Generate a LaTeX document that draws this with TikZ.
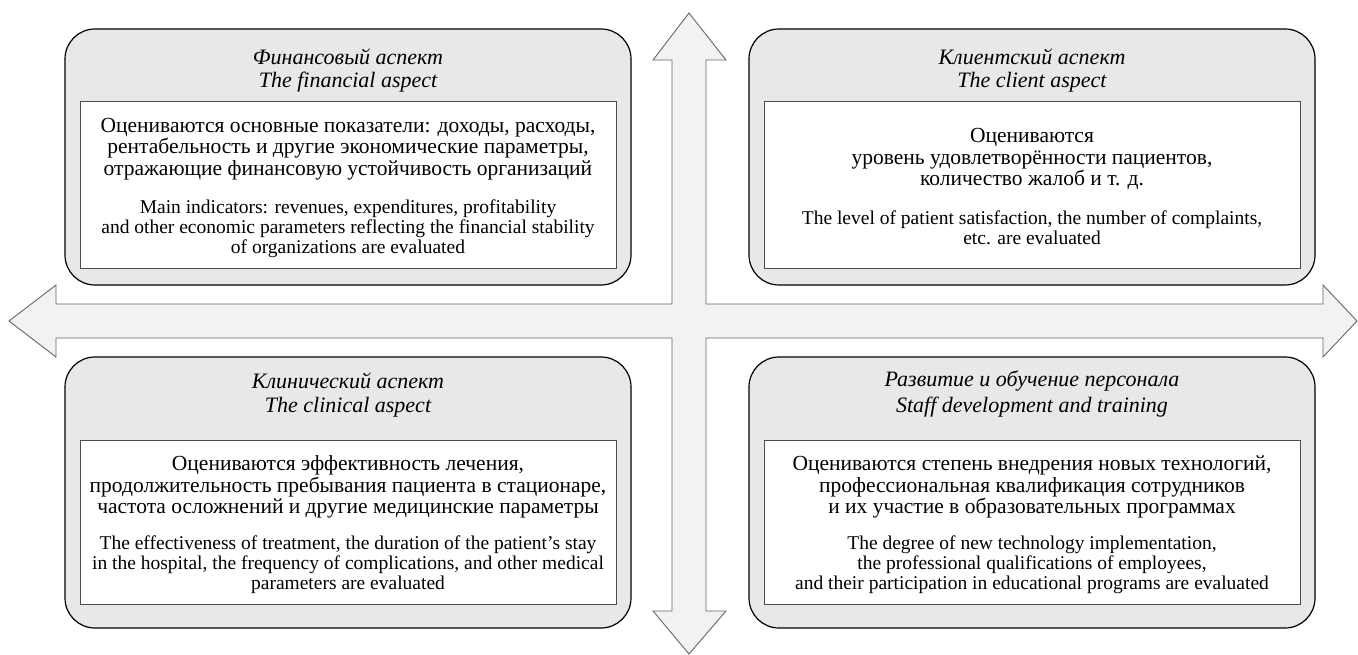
\documentclass[tikz,border=0pt]{standalone}
\usepackage{fontspec}
\setmainfont{Liberation Serif}
\usepackage{tikz}

\begin{document}
\begin{tikzpicture}[x=1pt,y=-1pt,
  aspect/.style={draw=black,line width=1.2pt,fill=black!9,rounded corners=30pt},
  inbox/.style={draw=black!70,line width=0.9pt,fill=white},
  head/.style={inner sep=0pt,font=\itshape\fontsize{22}{24}\selectfont},
  ru/.style={align=center,inner sep=0pt,font=\fontsize{21.5}{21.5}\selectfont},
  en/.style={align=center,inner sep=0pt,font=\fontsize{19.5}{19.8}\selectfont}]
  \useasboundingbox (0,0) rectangle (1358,655);

  % cross of two double arrows
  \draw[draw=black!60,fill=black!5,line width=0.9pt]
    (689,13) -- (726,60) -- (706,60) -- (706,304) -- (1323,304) -- (1323,285)
    -- (1357,321) -- (1323,357) -- (1323,338) -- (706,338) -- (706,611)
    -- (726,611) -- (689,654) -- (653,611) -- (672,611) -- (672,338)
    -- (56,338) -- (56,357) -- (9,321) -- (56,285) -- (56,304) -- (672,304)
    -- (672,60) -- (653,60) -- cycle;

  % financial aspect (top left)
  \draw[aspect] (65,29) rectangle (631,285);
  \draw[inbox] (80,101) rectangle (616,268);
  \node[head] (fin-ru) at (348,57) {Финансовый аспект};
  \node[head] (fin-en) at (348,82) {The financial aspect};
  \node[ru] (fin-text) at (348,149) {Оцениваются основные показатели: доходы, расходы,\\
    рентабельность и другие экономические параметры,\\
    отражающие финансовую устойчивость организаций};
  \node[en] (fin-trans) at (348,229) {Main indicators: revenues, expenditures, profitability\\
    and other economic parameters reflecting the financial stability\\
    of organizations are evaluated};

  % client aspect (top right)
  \draw[aspect] (749,29) rectangle (1315,285);
  \draw[inbox] (764,101) rectangle (1300,268);
  \node[head] (cli-ru) at (1032,57) {Клиентский аспект};
  \node[head] (cli-en) at (1032,82) {The client aspect};
  \node[ru] (cli-text) at (1032,159) {Оцениваются\\
    уровень удовлетворённости пациентов,\\
    количество жалоб и т. д.};
  \node[en] (cli-trans) at (1032,228) {The level of patient satisfaction, the number of complaints,\\
    etc. are evaluated};

  % clinical aspect (bottom left)
  \draw[aspect] (65,357) rectangle (631,628);
  \draw[inbox] (80,440) rectangle (616,604);
  \node[head] (cln-ru) at (348,381) {Клинический аспект};
  \node[head] (cln-en) at (348,407) {The clinical aspect};
  \node[ru] (cln-text) at (348,487) {Оцениваются эффективность лечения,\\
    продолжительность пребывания пациента в стационаре,\\
    частота осложнений и другие медицинские параметры};
  \node[en] (cln-trans) at (348,565) {The effectiveness of treatment, the duration of the patient's stay\\
    in the hospital, the frequency of complications, and other medical\\
    parameters are evaluated};

  % staff development (bottom right)
  \draw[aspect] (749,357) rectangle (1315,628);
  \draw[inbox] (764,440) rectangle (1300,604);
  \node[head] (stf-ru) at (1032,381) {Развитие и обучение персонала};
  \node[head] (stf-en) at (1032,407) {Staff development and training};
  \node[ru] (stf-text) at (1032,487) {Оцениваются степень внедрения новых технологий,\\
    профессиональная квалификация сотрудников\\
    и их участие в образовательных программах};
  \node[en] (stf-trans) at (1032,565) {The degree of new technology implementation,\\
    the professional qualifications of employees,\\
    and their participation in educational programs are evaluated};
\end{tikzpicture}
\end{document}
